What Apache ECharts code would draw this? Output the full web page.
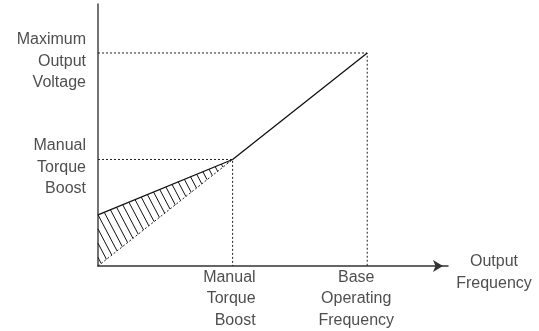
<!DOCTYPE html>
<html>
<head>
<meta charset="utf-8">
<script src="https://cdn.jsdelivr.net/npm/echarts@6/dist/echarts.min.js"></script>
<style>
  html, body { margin: 0; padding: 0; background: #fff; }
  #chart { width: 539px; height: 331px; }
</style>
</head>
<body>
<div id="chart"></div>
<script>
// V/f curve with manual torque boost (frequency and voltage in % of base values)
const vfFreq = [0, 50, 100];
const vfVolt = [24, 50, 100];

// Linear V/f line without boost (lower edge of the boosted region)
const linearFreq = [0, 50];
const linearVolt = [0, 50];

// Reference points on the axes
const boostFreq = 50;
const boostVolt = 50;
const baseFreq = 100;
const maxVolt = 100;

// Axis annotations
const xTickLabels = ['Manual\nTorque\nBoost', 'Base\nOperating\nFrequency'];
const yTickLabels = ['Maximum\nOutput\nVoltage', 'Manual\nTorque\nBoost'];
const xAxisTitle = 'Output\nFrequency';

const xMax = 130;
const yMax = 123;

const FONT = 'Liberation Sans, Arial, sans-serif';
const TEXT_COLOR = '#222';
const textStyle = { fontFamily: FONT, fontSize: 16, lineHeight: 21.5, color: TEXT_COLOR };

const chart = echarts.init(document.getElementById('chart'), null, { renderer: 'canvas' });

function pairs(xs, ys) { return xs.map((x, i) => [x, ys[i]]); }

// Hatching clipped to the triangle between the boosted and the linear V/f lines
function renderHatch(params, api) {
  const A = api.coord([vfFreq[0], vfVolt[0]]);
  const B = api.coord([vfFreq[1], vfVolt[1]]);
  const C = api.coord([linearFreq[0], linearVolt[0]]);
  const tri = [A, B, C];
  const k = 1.9;                       // steepness of hatch strokes (dy/dx on screen)
  const len = Math.sqrt(1 + k * k);
  const nx = k / len, ny = -1 / len;   // normal of hatch direction
  const step = 7.5 * nx;               // perpendicular spacing
  const proj = tri.map(p => p[0] * nx + p[1] * ny);
  const cMin = Math.min.apply(null, proj), cMax = Math.max.apply(null, proj);
  const children = [];
  for (let c = cMin + step * 0.6; c < cMax; c += step) {
    const pts = [];
    for (let i = 0; i < 3; i++) {
      const P = tri[i], Q = tri[(i + 1) % 3];
      const fp = P[0] * nx + P[1] * ny - c;
      const fq = Q[0] * nx + Q[1] * ny - c;
      if ((fp <= 0 && fq > 0) || (fp > 0 && fq <= 0)) {
        const t = fp / (fp - fq);
        pts.push([P[0] + t * (Q[0] - P[0]), P[1] + t * (Q[1] - P[1])]);
      }
    }
    if (pts.length === 2) {
      children.push({
        type: 'line',
        shape: { x1: pts[0][0], y1: pts[0][1], x2: pts[1][0], y2: pts[1][1] },
        style: { stroke: '#111', lineWidth: 1 }
      });
    }
  }
  return { type: 'group', children: children };
}

const dotted = { color: '#222', width: 1, type: [2, 2] };

function annotation(x, y, text, align, ox, oy) {
  return {
    value: [x, y],
    label: {
      show: true, formatter: text, position: 'inside',
      align: align, verticalAlign: 'middle', offset: [ox, oy],
      ...textStyle
    }
  };
}

chart.setOption({
  animation: false,
  grid: { left: 98, right: 91, top: 4, bottom: 65, containLabel: false },
  xAxis: {
    type: 'value', min: 0, max: xMax,
    axisLine: { show: true, symbol: ['none', 'arrow'], symbolSize: [9, 10], symbolOffset: [0, -5],
      lineStyle: { color: '#333', width: 1.5 } },
    axisTick: { show: false }, axisLabel: { show: false }, splitLine: { show: false }
  },
  yAxis: {
    type: 'value', min: 0, max: yMax,
    axisLine: { show: true, lineStyle: { color: '#444', width: 1.5 } },
    axisTick: { show: false }, axisLabel: { show: false }, splitLine: { show: false }
  },
  series: [
    {
      type: 'custom', name: 'boost region', data: [[0, 0]],
      renderItem: renderHatch, silent: true, clip: false
    },
    {
      type: 'line', name: 'max voltage guide', symbol: 'none', silent: true,
      data: [[0, maxVolt], [baseFreq, maxVolt], [baseFreq, 0]], lineStyle: dotted
    },
    {
      type: 'line', name: 'boost guide', symbol: 'none', silent: true,
      data: [[0, boostVolt], [boostFreq, boostVolt], [boostFreq, 0]], lineStyle: dotted
    },
    {
      type: 'line', name: 'linear V/f', symbol: 'none', silent: true,
      data: pairs(linearFreq, linearVolt), lineStyle: dotted
    },
    {
      type: 'line', name: 'V/f with boost', symbol: 'none', silent: true,
      data: pairs(vfFreq, vfVolt), lineStyle: { color: '#111', width: 1.3 }
    },
    {
      type: 'scatter', name: 'labels', symbolSize: 0, silent: true, clip: false,
      itemStyle: { color: 'transparent' },
      data: [
        annotation(boostFreq, 0, xTickLabels[0], 'right', 23, 33),
        annotation(baseFreq, 0, xTickLabels[1], 'center', -11, 33),
        annotation(0, maxVolt, yTickLabels[0], 'right', -12, 8.5),
        annotation(0, boostVolt, yTickLabels[1], 'right', -12, 8),
        annotation(xMax, 0, xAxisTitle, 'center', 46, 6.5)
      ]
    }
  ]
});
</script>
</body>
</html>
